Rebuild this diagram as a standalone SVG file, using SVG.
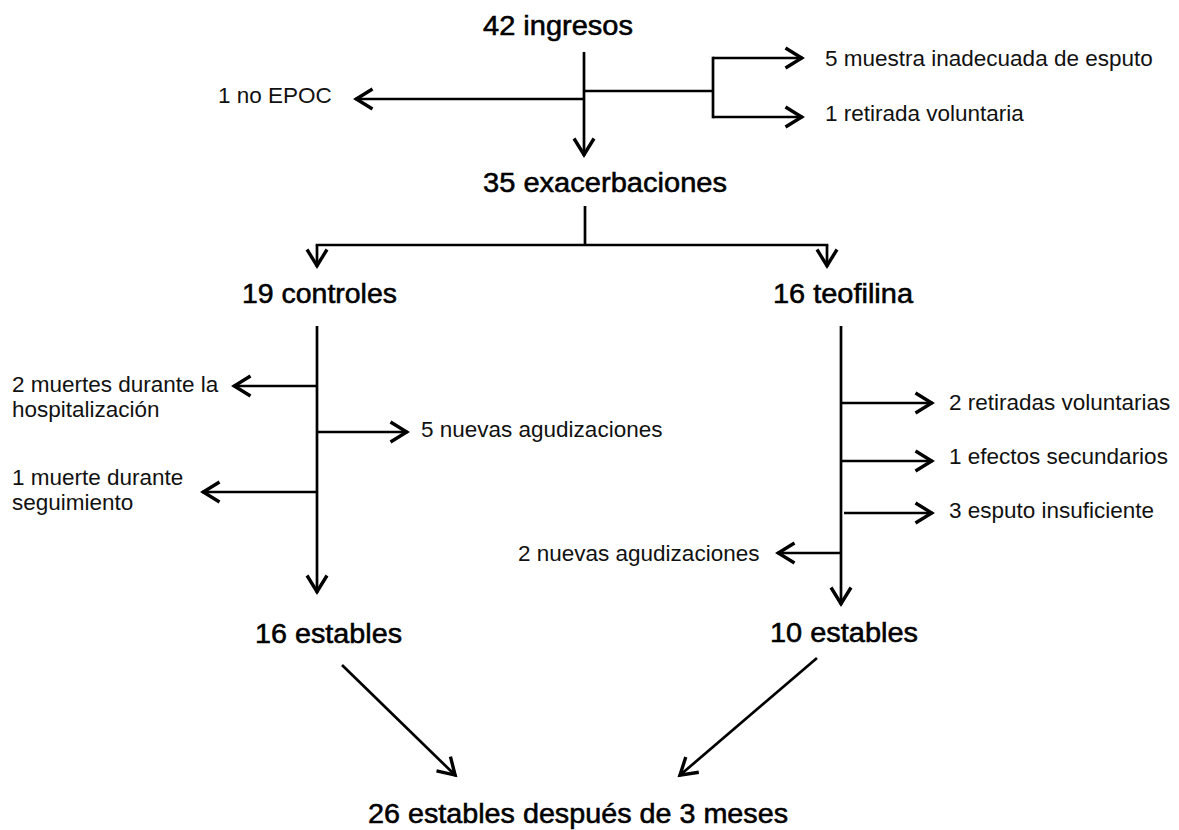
<svg xmlns="http://www.w3.org/2000/svg" width="1179" height="830" viewBox="0 0 1179 830">
<style>
.main{font-family:"Liberation Sans",Arial,sans-serif;font-size:27.5px;fill:#000;stroke:#000;stroke-width:0.55px}
.lbl{font-family:"Liberation Sans",Arial,sans-serif;font-size:22.5px;fill:#111}
.c{fill:none;stroke:#000;stroke-width:2.7;marker-end:url(#a)}
.p{fill:none;stroke:#000;stroke-width:2.7}
</style>
<defs>
<marker id="a" markerUnits="userSpaceOnUse" markerWidth="30" markerHeight="30" viewBox="-20 -12 24 24" refX="0" refY="0" orient="auto" overflow="visible">
<path d="M-14,-8 L-1,0 L-14,8" fill="none" stroke="#000" stroke-width="2.7"/>
</marker>
</defs>
<rect width="1179" height="830" fill="#fff"/>
<g id="connectors">
<line class="c" x1="584" y1="52" x2="584" y2="156"/>
<line class="c" x1="584" y1="99" x2="355" y2="99"/>
<line class="p" x1="584" y1="91" x2="713" y2="91"/>
<line class="p" x1="713" y1="56.7" x2="713" y2="118.3"/>
<line class="c" x1="713" y1="58" x2="803" y2="58"/>
<line class="c" x1="713" y1="117" x2="803" y2="117"/>
<line class="p" x1="585" y1="206" x2="585" y2="245"/>
<line class="p" x1="315.7" y1="245" x2="828.3" y2="245"/>
<line class="c" x1="317" y1="245" x2="317" y2="267"/>
<line class="c" x1="827" y1="245" x2="827" y2="267"/>
<line class="c" x1="317" y1="326" x2="317" y2="593"/>
<line class="c" x1="317" y1="386" x2="233" y2="386"/>
<line class="c" x1="317" y1="432" x2="408" y2="432"/>
<line class="c" x1="317" y1="492" x2="202" y2="492"/>
<line class="c" x1="841" y1="326" x2="841" y2="605"/>
<line class="c" x1="841" y1="403" x2="933" y2="403"/>
<line class="c" x1="841" y1="461" x2="933" y2="461"/>
<line class="c" x1="844" y1="513" x2="933" y2="513"/>
<line class="c" x1="841" y1="553" x2="777" y2="553"/>
<line class="c" x1="342" y1="665" x2="456" y2="776"/>
<line class="c" x1="817" y1="658" x2="679" y2="776"/>
</g>
<g id="n-ingresos"><text class="main" x="483" y="35" textLength="150" lengthAdjust="spacingAndGlyphs">42 ingresos</text></g>
<g id="n-noepoc"><text class="lbl" x="218" y="103">1 no EPOC</text></g>
<g id="n-muestra"><text class="lbl" x="825" y="66">5 muestra inadecuada de esputo</text></g>
<g id="n-retirada"><text class="lbl" x="825" y="121">1 retirada voluntaria</text></g>
<g id="n-exacerbaciones"><text class="main" x="483" y="192" textLength="244" lengthAdjust="spacingAndGlyphs">35 exacerbaciones</text></g>
<g id="n-controles"><text class="main" x="242" y="303" textLength="155" lengthAdjust="spacingAndGlyphs">19 controles</text></g>
<g id="n-teofilina"><text class="main" x="773" y="303" textLength="140" lengthAdjust="spacingAndGlyphs">16 teofilina</text></g>
<g id="n-muertes-hosp"><text class="lbl" x="12" y="392">2 muertes durante la</text><text class="lbl" x="12" y="417">hospitalización</text></g>
<g id="n-nuevas5"><text class="lbl" x="421" y="437">5 nuevas agudizaciones</text></g>
<g id="n-muerte-seg"><text class="lbl" x="12" y="485">1 muerte durante</text><text class="lbl" x="12" y="510">seguimiento</text></g>
<g id="n-retiradas2"><text class="lbl" x="949" y="410">2 retiradas voluntarias</text></g>
<g id="n-efectos"><text class="lbl" x="949" y="464">1 efectos secundarios</text></g>
<g id="n-esputo"><text class="lbl" x="949" y="518">3 esputo insuficiente</text></g>
<g id="n-nuevas2"><text class="lbl" x="518" y="561">2 nuevas agudizaciones</text></g>
<g id="n-estables16"><text class="main" x="255" y="643" textLength="147" lengthAdjust="spacingAndGlyphs">16 estables</text></g>
<g id="n-estables10"><text class="main" x="770" y="642" textLength="148" lengthAdjust="spacingAndGlyphs">10 estables</text></g>
<g id="n-estables26"><text class="main" x="368" y="823" textLength="420" lengthAdjust="spacingAndGlyphs">26 estables después de 3 meses</text></g>
</svg>
